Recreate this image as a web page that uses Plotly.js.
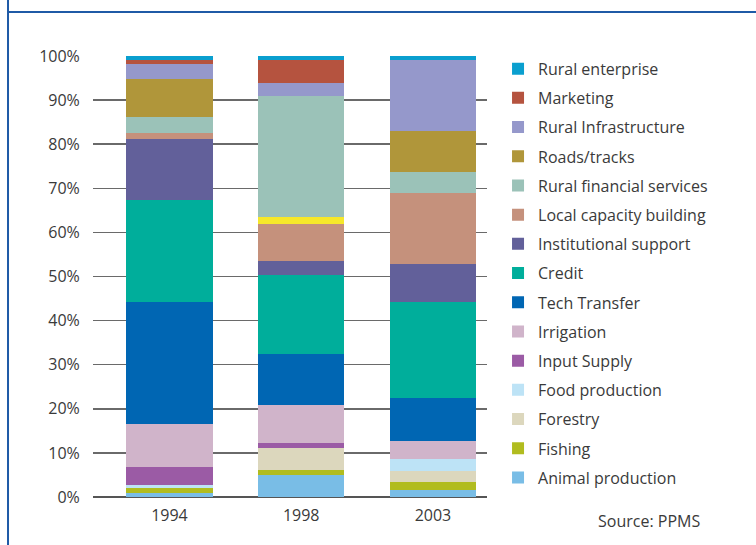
<!DOCTYPE html>
<html>
<head>
<meta charset="utf-8">
<script src="https://cdn.plot.ly/plotly-3.0.1.min.js"></script>
<style>html,body{margin:0;padding:0;background:#fff;}</style>
</head>
<body>
<div id="chart" style="width:756px;height:545px;"></div>
<script>
const years = ['1994', '1998', '2003'];
const seriesNames = ['Animal production','Fishing','Forestry','Food production','Input Supply','Irrigation','Tech Transfer','Credit','Institutional support','Local capacity building','Other','Rural financial services','Roads/tracks','Rural Infrastructure','Marketing','Rural enterprise'];
const animalProduction = [1.0, 5.0, 1.6];
const fishing = [1.0, 1.1, 1.8];
const forestry = [0, 5.0, 2.4];
const foodProduction = [0.7, 0, 2.8];
const inputSupply = [4.1, 1.1, 0];
const irrigation = [9.8, 8.6, 4.1];
const techTransfer = [27.7, 11.6, 9.8];
const credit = [23.0, 17.9, 21.8];
const institutionalSupport = [13.9, 3.2, 8.6];
const localCapacity = [1.4, 8.4, 16.1];
const other = [0, 1.6, 0];
const ruralFinancial = [3.6, 27.5, 4.8];
const roadsTracks = [8.6, 0, 9.1];
const ruralInfrastructure = [3.4, 2.9, 16.3];
const marketing = [0.8, 5.2, 0];
const ruralEnterprise = [1.2, 0.9, 0.9];
const seriesValues = [animalProduction, fishing, forestry, foodProduction, inputSupply, irrigation, techTransfer, credit, institutionalSupport, localCapacity, other, ruralFinancial, roadsTracks, ruralInfrastructure, marketing, ruralEnterprise];
const colors = ['#79bde6','#b1bc1f','#dcd7bd','#bde3f6','#9b5ba5','#d0b4ca','#0066b3','#00ae9b','#62609a','#c5917c','#f6e82a','#9bc2b8','#b0963a','#9598cb','#b5533f','#0a9fcf'];

const traces = seriesNames.map((n, i) => ({
  type: 'bar',
  name: n,
  x: years,
  y: seriesValues[i],
  marker: {color: colors[i], line: {width: 0}},
  legendgroup: 'g' + i,
  legendrank: 1000 - i,
  showlegend: n !== 'Other',
  hoverinfo: 'name+y'
}));

const frameColor = '#1f5aa6';
const txt = '#3a3a3a';
const layout = {
  width: 756, height: 545,
  margin: {l: 93, r: 269, t: 56, b: 48},
  paper_bgcolor: '#fff', plot_bgcolor: '#fff',
  barmode: 'stack',
  bargap: 0.345,
  font: {family: 'Open Sans, Noto Sans, sans-serif', size: 16, color: txt},
  xaxis: {type: 'category', range: [-0.58, 2.41], showgrid: false, zeroline: false,
          showline: false, ticks: 'outside', ticklen: 4, tickcolor: 'rgba(0,0,0,0)',
          tickfont: {size: 16, color: txt}},
  yaxis: {range: [0, 100], dtick: 10, ticksuffix: '%', showgrid: true, gridcolor: '#6a6a6a',
          gridwidth: 1.5, zeroline: true, zerolinecolor: '#555', zerolinewidth: 1.5,
          ticks: 'outside', ticklen: 9, tickcolor: 'rgba(0,0,0,0)',
          tickfont: {size: 16, color: txt}},
  legend: {x: 1.028, xanchor: 'left', y: 1.0096, yanchor: 'top', traceorder: 'grouped',
           tracegroupgap: 5.4, maxheight: 545, font: {size: 16, color: txt}, bgcolor: 'rgba(0,0,0,0)'},
  annotations: [{xref: 'paper', yref: 'paper', x: 1.41, y: -0.055, xanchor: 'center', yanchor: 'middle',
                 text: 'Source: PPMS', showarrow: false, font: {size: 16, color: txt}}],
  shapes: [
    {type: 'line', xref: 'paper', yref: 'paper', x0: -0.2157, x1: -0.2157, y0: 1.2, y1: -0.2, line: {color: frameColor, width: 2}},
    {type: 'line', xref: 'paper', yref: 'paper', x0: -0.2157, x1: 1.8, y0: 1.0998, y1: 1.0998, line: {color: frameColor, width: 2}}
  ]
};
Plotly.newPlot('chart', traces, layout, {displayModeBar: false, staticPlot: true});
</script>
</body>
</html>
